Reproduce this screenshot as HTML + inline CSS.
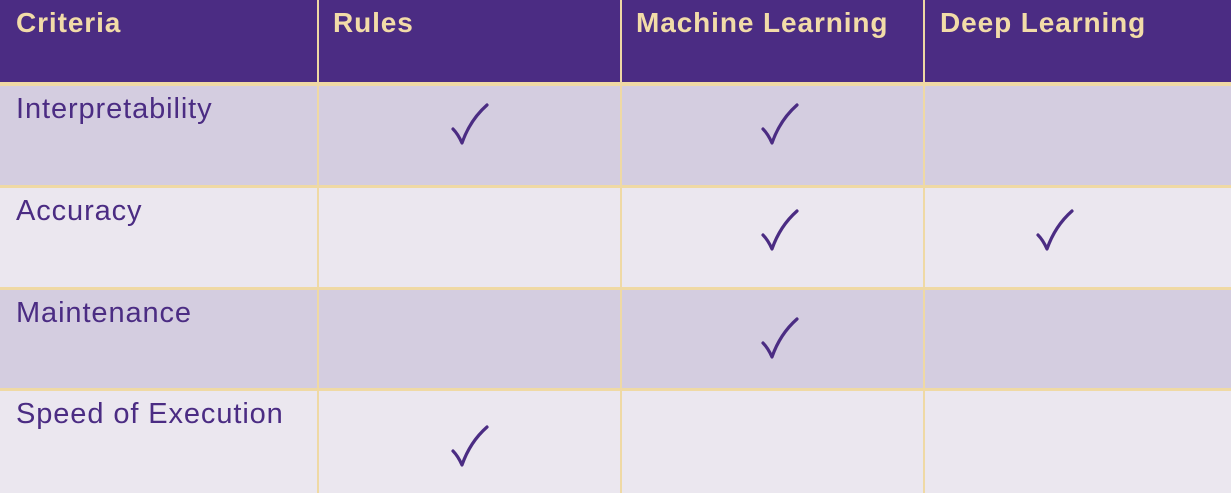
<!DOCTYPE html>
<html><head><meta charset="utf-8"><style>
body{margin:0;width:1231px;height:493px;overflow:hidden;background:#ebe7ef;font-family:"Liberation Sans",sans-serif;position:relative}
.h{position:absolute;top:0;height:82px;background:#4b2c83}
.ht{position:absolute;top:7px;font-weight:bold;color:#f2dca8;font-size:28px;letter-spacing:0.9px}
.r{position:absolute;left:0;width:1231px}
.t{position:absolute;left:16px;color:#4b2c83;font-size:29px;letter-spacing:0.9px}
.v{position:absolute;top:0;height:493px;width:2px;background:#efd9a4}
.hl{position:absolute;left:0;width:1231px;height:3px;background:#efd9a4}
.c{position:absolute;width:40px;height:46px}
.c path{fill:none;stroke:#4b2c83;stroke-width:3.2;stroke-linecap:round;stroke-linejoin:round}
</style></head><body>
<div class="h" style="left:0;width:1231px"></div>
<div class="ht" style="left:16px">Criteria</div>
<div class="ht" style="left:333px">Rules</div>
<div class="ht" style="left:636px">Machine Learning</div>
<div class="ht" style="left:940px">Deep Learning</div>
<div class="r" style="top:84px;height:102px;background:#d4cde0"></div>
<div class="r" style="top:186px;height:103px;background:#ebe7ef"></div>
<div class="r" style="top:289px;height:101px;background:#d4cde0"></div>
<div class="r" style="top:390px;height:103px;background:#ebe7ef"></div>
<div class="hl" style="top:82px;height:4px"></div>
<div class="hl" style="top:185px"></div>
<div class="hl" style="top:287px"></div>
<div class="hl" style="top:388px"></div>
<div class="v" style="left:317px"></div>
<div class="v" style="left:620px"></div>
<div class="v" style="left:923px"></div>
<div class="t" style="top:93px">Interpretability</div>
<div class="t" style="top:195px">Accuracy</div>
<div class="t" style="top:297px">Maintenance</div>
<div class="t" style="top:398px">Speed of Execution</div>
<svg class="c" style="left:450px;top:102px" viewBox="0 0 40 46"><path d="M3 27 Q8 32 12 41 Q20 18 37 3"/></svg>
<svg class="c" style="left:760px;top:102px" viewBox="0 0 40 46"><path d="M3 27 Q8 32 12 41 Q20 18 37 3"/></svg>
<svg class="c" style="left:760px;top:208px" viewBox="0 0 40 46"><path d="M3 27 Q8 32 12 41 Q20 18 37 3"/></svg>
<svg class="c" style="left:1035px;top:208px" viewBox="0 0 40 46"><path d="M3 27 Q8 32 12 41 Q20 18 37 3"/></svg>
<svg class="c" style="left:760px;top:316px" viewBox="0 0 40 46"><path d="M3 27 Q8 32 12 41 Q20 18 37 3"/></svg>
<svg class="c" style="left:450px;top:424px" viewBox="0 0 40 46"><path d="M3 27 Q8 32 12 41 Q20 18 37 3"/></svg>
</body></html>
